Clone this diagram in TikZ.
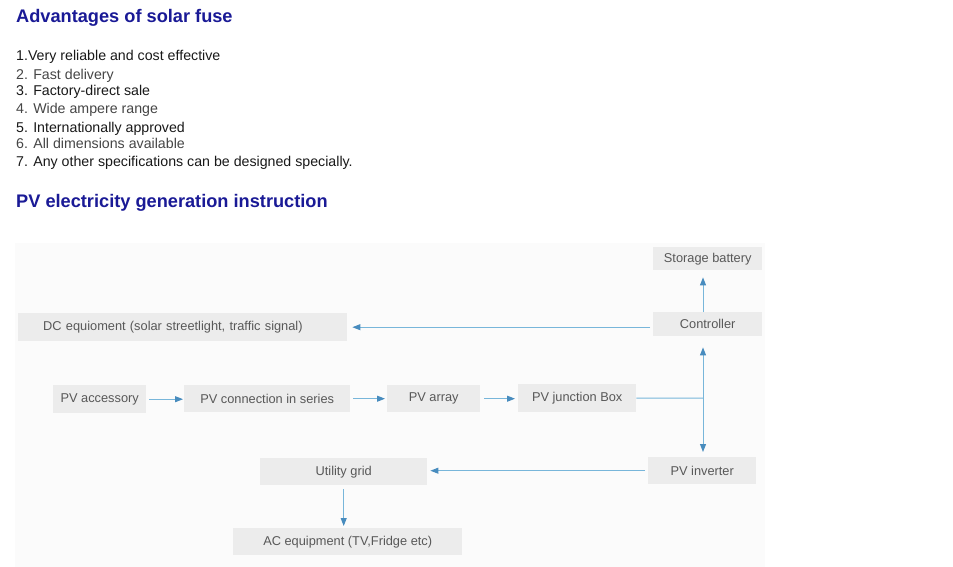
\documentclass[tikz,border=0pt]{standalone}
\usepackage{fontspec}
\setmainfont{Liberation Sans}
\usetikzlibrary{arrows.meta}
\definecolor{headblue}{RGB}{26,26,150}
\definecolor{listdark}{RGB}{25,25,25}
\definecolor{listgray}{RGB}{70,70,70}
\definecolor{boxgray}{RGB}{236,236,236}
\definecolor{boxtext}{RGB}{88,88,88}
\definecolor{panel}{RGB}{251,251,251}
\definecolor{linecol}{RGB}{120,182,218}
\definecolor{tipcol}{RGB}{72,140,190}
\begin{document}
\begin{tikzpicture}[x=1pt,y=-1pt,
  heading/.style={anchor=base west, inner sep=0pt, text=headblue, font=\fontsize{18.2}{20}\selectfont\bfseries},
  listitem/.style={anchor=base west, inner sep=0pt, font=\fontsize{14.2}{16}\selectfont},
  box/.style={anchor=north west, inner sep=0pt, fill=boxgray, text=boxtext, font=\fontsize{12.8}{14}\selectfont},
  conn/.style={draw=linecol, line width=1pt, -{Triangle[length=8pt,width=6pt,color=tipcol]}}
]
\useasboundingbox (0,0) rectangle (953,567);
\fill[white] (0,0) rectangle (953,567);
\fill[panel] (15,243) rectangle (765,567);

% headings and list
\node[heading] (h1) at (16,23) {Advantages of solar fuse};
\node[listitem, text=listdark] (l1) at (16,61) {1.Very reliable and cost effective};
\node[listitem, text=listgray] (l2) at (16,80) {2. Fast delivery};
\node[listitem, text=listdark] (l3) at (16,96) {3. Factory-direct sale};
\node[listitem, text=listgray] (l4) at (16,114) {4. Wide ampere range};
\node[listitem, text=listdark] (l5) at (16,132.5) {5. Internationally approved};
\node[listitem, text=listgray] (l6) at (16,148.5) {6. All dimensions available};
\node[listitem, text=listdark] (l7) at (16,166.5) {7. Any other specifications can be designed specially.};
\node[heading] (h2) at (16,207) {PV electricity generation instruction};

% boxes
\node[box, minimum width=109pt, minimum height=23pt] (stor) at (653,247) {Storage battery};
\node[box, minimum width=109pt, minimum height=24pt] (ctrl) at (653,312) {Controller};
\node[box, minimum height=28pt, text width=279pt, align=left, inner xsep=25pt] (dc) at (18,313) {DC equioment (solar streetlight, traffic signal)};
\node[box, minimum width=93pt, minimum height=28pt] (acc) at (53,385) {PV accessory};
\node[box, minimum width=166pt, minimum height=27pt] (ser) at (184,385) {PV connection in series};
\node[box, minimum width=93pt, minimum height=27pt] (arr) at (387,385) {PV array};
\node[box, minimum width=118pt, minimum height=28pt] (jb) at (518,384) {PV junction Box};
\node[box, minimum width=108pt, minimum height=27pt] (inv) at (648,457) {PV inverter};
\node[box, minimum width=167pt, minimum height=27pt] (util) at (260,458) {Utility grid};
\node[box, minimum width=229pt, minimum height=27pt] (ac) at (233,528) {AC equipment (TV,Fridge etc)};

\coordinate (jn) at (703,398);

% connectors
\draw[conn, shorten <=3pt, shorten >=1pt] (acc.east) -- (acc.east -| ser.west);
\draw[conn, shorten <=3pt, shorten >=2pt] (ser.east) -- (ser.east -| arr.west);
\draw[conn, shorten <=4pt, shorten >=3pt] (arr.east) -- (arr.east -| jb.west);
\draw[draw=linecol, line width=1pt] (jb.east) -- (jn);
\draw[conn, shorten >=11pt] (jn) -- (jn |- ctrl.south);
\draw[conn, shorten >=5pt] (jn) -- (jn |- inv.north);
\draw[conn, shorten >=7pt] (jn |- ctrl.north) -- (jn |- stor.south);
\draw[conn, shorten <=3pt, shorten >=5pt] (ctrl.west |- dc.east) -- (dc.east);
\draw[conn, shorten <=3pt, shorten >=3pt] (inv.west) -- (inv.west -| util.east);
\draw[conn, shorten <=4pt, shorten >=2pt] (util.south) -- (util.south |- ac.north);
\end{tikzpicture}
\end{document}
